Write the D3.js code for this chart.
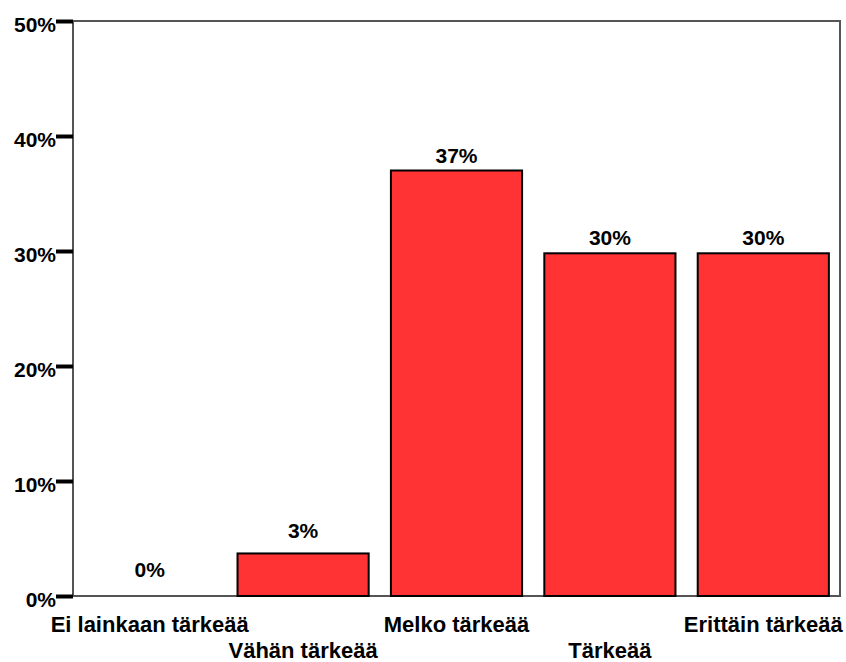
<!DOCTYPE html>
<html><head><meta charset="utf-8">
<script src="https://cdn.jsdelivr.net/npm/d3@7"></script>
<style>body{margin:0;background:#fff}svg text{font-family:"Liberation Sans",Arial,sans-serif;font-weight:bold;fill:#000}</style>
</head><body>
<svg id="c" width="846" height="662"></svg>
<script>
const categories = ["Ei lainkaan tärkeää","Vähän tärkeää","Melko tärkeää","Tärkeää","Erittäin tärkeää"];
const values = [0, 3.7, 37.0, 29.8, 29.8];
const valueLabels = ["0%","3%","37%","30%","30%"];
const yTicks = [0,10,20,30,40,50];

const svg = d3.select("#c");
const L=73, R=840, T=21, B=596;
const x = d3.scaleBand().domain(categories).range([L,R]).paddingInner(0.145).paddingOuter(0.0725);
const y = d3.scaleLinear().domain([0,50]).range([B,T]);

// frame
svg.append("rect").attr("x",L).attr("y",T).attr("width",R-L).attr("height",B-T)
  .attr("fill","none").attr("stroke","#555").attr("stroke-width",2);

// bars
svg.selectAll("rect.bar").data(values).join("rect").attr("class","bar")
  .attr("x",(d,i)=>x(categories[i])).attr("width",x.bandwidth())
  .attr("y",d=>y(d)).attr("height",d=>B-y(d))
  .attr("fill",d=>d>0?"#FF3333":"none").attr("stroke",d=>d>0?"#000":"none").attr("stroke-width",2);

// value labels
svg.selectAll("text.vl").data(values).join("text").attr("class","vl")
  .attr("x",(d,i)=>x(categories[i])+x.bandwidth()/2)
  .attr("y",d=>y(d)-(d<1?19:d<10?15:8))
  .attr("text-anchor","middle").attr("font-size",21).text((d,i)=>valueLabels[i]);

// y axis
const yAxis = d3.axisLeft(y).tickValues(yTicks).tickFormat(d=>d+"%").tickSize(17).tickPadding(0);
const ga = svg.append("g").attr("transform",`translate(${L},0)`).call(yAxis);
ga.select(".domain").remove();
ga.selectAll(".tick line").attr("stroke","#000").attr("stroke-width",4);
ga.selectAll(".tick text").attr("font-size",21).attr("dy","0.5em").attr("x",-17);

// x labels staggered
svg.selectAll("text.xl").data(categories).join("text").attr("class","xl")
  .attr("x",d=>x(d)+x.bandwidth()/2).attr("y",(d,i)=>i%2===0?632:658)
  .attr("text-anchor","middle").attr("font-size",22).text(d=>d);
</script>
</body></html>
